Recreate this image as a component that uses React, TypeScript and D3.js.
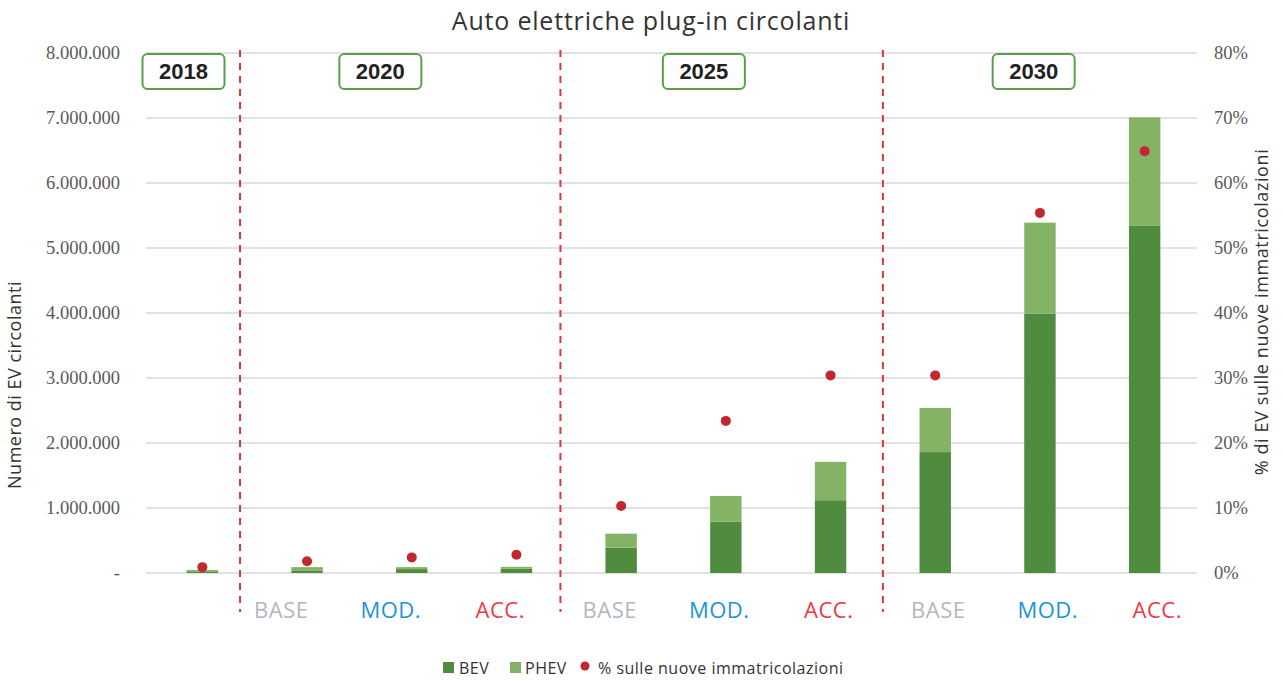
import React from "react";
import * as d3 from "d3";

const categories = ["2018", "2020 BASE", "2020 MOD.", "2020 ACC.", "2025 BASE", "2025 MOD.", "2025 ACC.", "2030 BASE", "2030 MOD.", "2030 ACC."];
const scenarioLabels = ["", "BASE", "MOD.", "ACC.", "BASE", "MOD.", "ACC.", "BASE", "MOD.", "ACC."];
const bevValues = [25000, 40000, 60000, 65000, 390000, 790000, 1120000, 1860000, 3990000, 5340000];
const phevValues = [22000, 50000, 30000, 30000, 215000, 395000, 590000, 680000, 1400000, 1670000];
const sharePct = [0.9, 1.8, 2.4, 2.8, 10.3, 23.4, 30.4, 30.4, 55.4, 64.9];
const leftTicks = [0, 1000000, 2000000, 3000000, 4000000, 5000000, 6000000, 7000000, 8000000];
const rightTicks = [0, 10, 20, 30, 40, 50, 60, 70, 80];
// year boxes: label and position in category-index units
const yearLabels = ["2018", "2020", "2025", "2030"];
const yearPositions = [-0.18, 1.7, 4.79, 7.94];
// separators in category-index units
const separatorPositions = [0.36, 3.42, 6.5];

const W = 1283;
const H = 681;
const M = { left: 150, right: 1197, top: 53, bottom: 573 };

const scenarioColor: Record<string, string> = {
  "BASE": "#b3b8c0",
  "MOD.": "#1b95d6",
  "ACC.": "#f0383f",
};

const BEV_C = "#4f8c3f";
const PHEV_C = "#85b365";
const DOT_C = "#c4262e";

function fmtIt(v: number) {
  if (v === 0) return "-";
  return d3.format(",")(v).replace(/,/g, ".");
}

export default function App() {
  const x = d3.scaleBand<string>().domain(categories).range([M.left, M.right]).paddingInner(0.7).paddingOuter(0.35);
  const xLabel = d3.scaleBand<string>().domain(categories).range([117, 1212]).padding(0);
  const step = x.step();
  const xc = (i: number) => (x(categories[0]) as number) + x.bandwidth() / 2 + i * step;
  const y = d3.scaleLinear().domain([0, 8000000]).range([M.bottom, M.top]);
  const y2 = d3.scaleLinear().domain([0, 80]).range([M.bottom, M.top]);

  const stackData = categories.map((c, i) => ({ cat: c, BEV: bevValues[i], PHEV: phevValues[i] }));
  const stacked = d3.stack<any>().keys(["BEV", "PHEV"])(stackData);
  const colors = [BEV_C, PHEV_C];

  const sans = "'Open Sans', Lato, sans-serif";
  const serif = "'Liberation Serif', 'DejaVu Serif', serif";

  return (
    <svg width={W} height={H} style={{ position: "absolute", left: 0, top: 0, background: "#fff" }}>
      <text x={651} y={30} textAnchor="middle" fontFamily={sans} fontSize={25} letterSpacing={0.8} fill="#333">
        Auto elettriche plug-in circolanti
      </text>

      {leftTicks.map((t) => (
        <g key={"g" + t}>
          <line x1={M.left - 4} x2={M.right} y1={y(t)} y2={y(t)} stroke="#d9d9d9" strokeWidth={1.5} />
          <text x={120} y={y(t) + 6} textAnchor="end" fontFamily={serif} fontSize={18.5} fill="#595959">
            {fmtIt(t)}
          </text>
        </g>
      ))}
      {rightTicks.map((t) => (
        <text key={"r" + t} x={1214} y={y2(t) + 6} textAnchor="start" fontFamily={serif} fontSize={18.5} fill="#595959">
          {t + "%"}
        </text>
      ))}

      <text transform={`translate(21,385) rotate(-90)`} textAnchor="middle" fontFamily={sans} fontSize={18} letterSpacing={0.5} fill="#333">
        Numero di EV circolanti
      </text>
      <text transform={`translate(1268,312) rotate(-90)`} textAnchor="middle" fontFamily={sans} fontSize={18} letterSpacing={0.6} fill="#333">
        % di EV sulle nuove immatricolazioni
      </text>

      {stacked.map((s, k) => (
        <g key={"s" + k} fill={colors[k]}>
          {s.map((d: any, i: number) => (
            <rect key={i} x={x(categories[i])} width={x.bandwidth()} y={y(d[1])} height={Math.max(0, y(d[0]) - y(d[1]))} />
          ))}
        </g>
      ))}

      {sharePct.map((p, i) => (
        <circle key={"d" + i} cx={xc(i)} cy={y2(p)} r={5} fill={DOT_C} />
      ))}

      {separatorPositions.map((p, i) => (
        <line key={"sep" + i} x1={xc(p)} x2={xc(p)} y1={50} y2={612} stroke="#d9363e" strokeWidth={2} strokeDasharray="7,6" />
      ))}

      {yearLabels.map((l, i) => (
        <g key={"y" + l}>
          <rect x={xc(yearPositions[i]) - 41} y={54} width={82} height={35} rx={5} fill="#fff" stroke="#5c9e4c" strokeWidth={2} />
          <text x={xc(yearPositions[i])} y={79} textAnchor="middle" fontFamily="'Liberation Sans', Arial, sans-serif" fontWeight="bold" fontSize={22} fill="#222">
            {l}
          </text>
        </g>
      ))}

      {scenarioLabels.map((l, i) =>
        l ? (
          <text key={"xl" + i} x={(xLabel(categories[i]) as number) + xLabel.bandwidth() / 2} y={618} textAnchor="middle" fontFamily={sans} fontSize={22} letterSpacing={0.5} fill={scenarioColor[l]}>
            {l}
          </text>
        ) : null
      )}

      <g fontFamily={sans} fontSize={16} letterSpacing={0.5} fill="#333">
        <rect x={443} y={662} width={11} height={11} fill={BEV_C} />
        <text x={459} y={674}>BEV</text>
        <rect x={510} y={662} width={11} height={11} fill={PHEV_C} />
        <text x={525} y={674}>PHEV</text>
        <circle cx={585} cy={666} r={4.5} fill={DOT_C} />
        <text x={598} y={674}>% sulle nuove immatricolazioni</text>
      </g>
    </svg>
  );
}
